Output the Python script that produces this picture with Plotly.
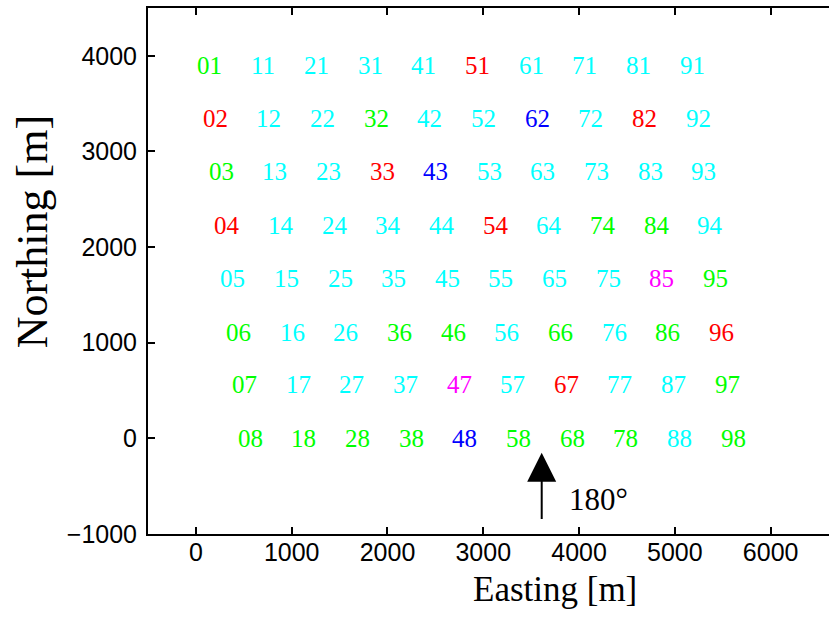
import plotly.graph_objects as go

# ---- data ----
row_northing = [3900, 3340, 2790, 2230, 1670, 1110, 560, 0]

row_easting = [
    [0, 560, 1120, 1680, 2240, 2800, 3360, 3920, 4480, 5040],
    [61, 621, 1181, 1741, 2301, 2861, 3421, 3981, 4541, 5101],
    [122, 682, 1242, 1802, 2362, 2922, 3482, 4042, 4602, 5162],
    [183, 743, 1303, 1863, 2423, 2983, 3543, 4103, 4663, 5223],
    [244, 804, 1364, 1924, 2484, 3044, 3604, 4164, 4724, 5284],
    [305, 865, 1425, 1985, 2545, 3105, 3665, 4225, 4785, 5345],
    [366, 926, 1486, 2046, 2606, 3166, 3726, 4286, 4846, 5406],
    [427, 987, 1547, 2107, 2667, 3227, 3787, 4347, 4907, 5467],
]

row_labels = [
    ["01", "11", "21", "31", "41", "51", "61", "71", "81", "91"],
    ["02", "12", "22", "32", "42", "52", "62", "72", "82", "92"],
    ["03", "13", "23", "33", "43", "53", "63", "73", "83", "93"],
    ["04", "14", "24", "34", "44", "54", "64", "74", "84", "94"],
    ["05", "15", "25", "35", "45", "55", "65", "75", "85", "95"],
    ["06", "16", "26", "36", "46", "56", "66", "76", "86", "96"],
    ["07", "17", "27", "37", "47", "57", "67", "77", "87", "97"],
    ["08", "18", "28", "38", "48", "58", "68", "78", "88", "98"],
]

row_groups = [
    ["g", "c", "c", "c", "c", "r", "c", "c", "c", "c"],
    ["r", "c", "c", "g", "c", "c", "b", "c", "r", "c"],
    ["g", "c", "c", "r", "b", "c", "c", "c", "c", "c"],
    ["r", "c", "c", "c", "c", "r", "c", "g", "g", "c"],
    ["c", "c", "c", "c", "c", "c", "c", "c", "m", "g"],
    ["g", "c", "c", "g", "g", "c", "g", "c", "g", "r"],
    ["g", "c", "c", "c", "m", "c", "r", "c", "c", "g"],
    ["g", "g", "g", "g", "b", "g", "g", "g", "c", "g"],
]

x_ticks = [0, 1000, 2000, 3000, 4000, 5000, 6000]
y_ticks = [-1000, 0, 1000, 2000, 3000, 4000]

wind_dir_label = "180°"
wind_arrow_easting = 3610
wind_arrow_from = -860
wind_arrow_to = -150
wind_label_pos = (3886, -640)

# ---- styling ----
group_colors = {"g": "#00FF00", "c": "#00FFFF", "r": "#FF0000",
                "b": "#0000FF", "m": "#FF00FF"}
serif = "Liberation Serif"
sans = "Liberation Sans"

fig = go.Figure()

annotations = []
for r, yv in enumerate(row_northing):
    for c in range(len(row_labels[r])):
        annotations.append(dict(
            x=row_easting[r][c], y=yv, xref="x", yref="y",
            text=row_labels[r][c], showarrow=False,
            xanchor="left", yanchor="middle", borderpad=0,
            font=dict(family=serif, size=25,
                      color=group_colors[row_groups[r][c]]),
        ))

# wind direction arrow
annotations.append(dict(
    x=wind_arrow_easting, y=wind_arrow_to, xref="x", yref="y",
    ax=wind_arrow_easting, ay=wind_arrow_from, axref="x", ayref="y",
    text="", showarrow=True, arrowhead=2, arrowwidth=2, arrowsize=2.9,
    arrowcolor="black",
))
annotations.append(dict(
    x=wind_label_pos[0], y=wind_label_pos[1], xref="x", yref="y",
    text=wind_dir_label, showarrow=False,
    xanchor="left", yanchor="middle", borderpad=0,
    font=dict(family=serif, size=31, color="black"),
))

# axis titles
annotations.append(dict(
    x=0.598, y=-0.106, xref="paper", yref="paper",
    text="Easting [m]", showarrow=False, xanchor="center", yanchor="middle",
    borderpad=0,
    font=dict(family=serif, size=35, color="black"),
))
annotations.append(dict(
    x=-0.17, y=0.574, xref="paper", yref="paper",
    text="Northing [m]", showarrow=False, textangle=-90,
    xanchor="center", yanchor="middle",
    font=dict(family=serif, size=44, color="black"),
))

# invisible trace so the axes are drawn
fig.add_trace(go.Scatter(x=[], y=[], mode="markers", showlegend=False))

fig.update_layout(
    width=829, height=617,
    margin=dict(l=148, r=0, t=8, b=83),
    paper_bgcolor="white", plot_bgcolor="white",
    showlegend=False,
    annotations=annotations,
)
fig.update_xaxes(
    range=[-500, 6609], tickvals=x_ticks,
    showgrid=False, zeroline=False,
    showline=True, linecolor="black", linewidth=2, mirror="ticks",
    ticks="inside", ticklen=7, tickwidth=2, tickcolor="black",
    tickfont=dict(family=sans, size=25, color="black"),
    ticklabelstandoff=-5,
)
fig.update_yaxes(
    range=[-1000, 4500], tickvals=y_ticks,
    showgrid=False, zeroline=False,
    showline=True, linecolor="black", linewidth=2, mirror=False,
    ticks="inside", ticklen=7, tickwidth=2, tickcolor="black",
    tickfont=dict(family=sans, size=25, color="black"),
    ticklabelstandoff=4,
)

fig.write_html("out.html")
